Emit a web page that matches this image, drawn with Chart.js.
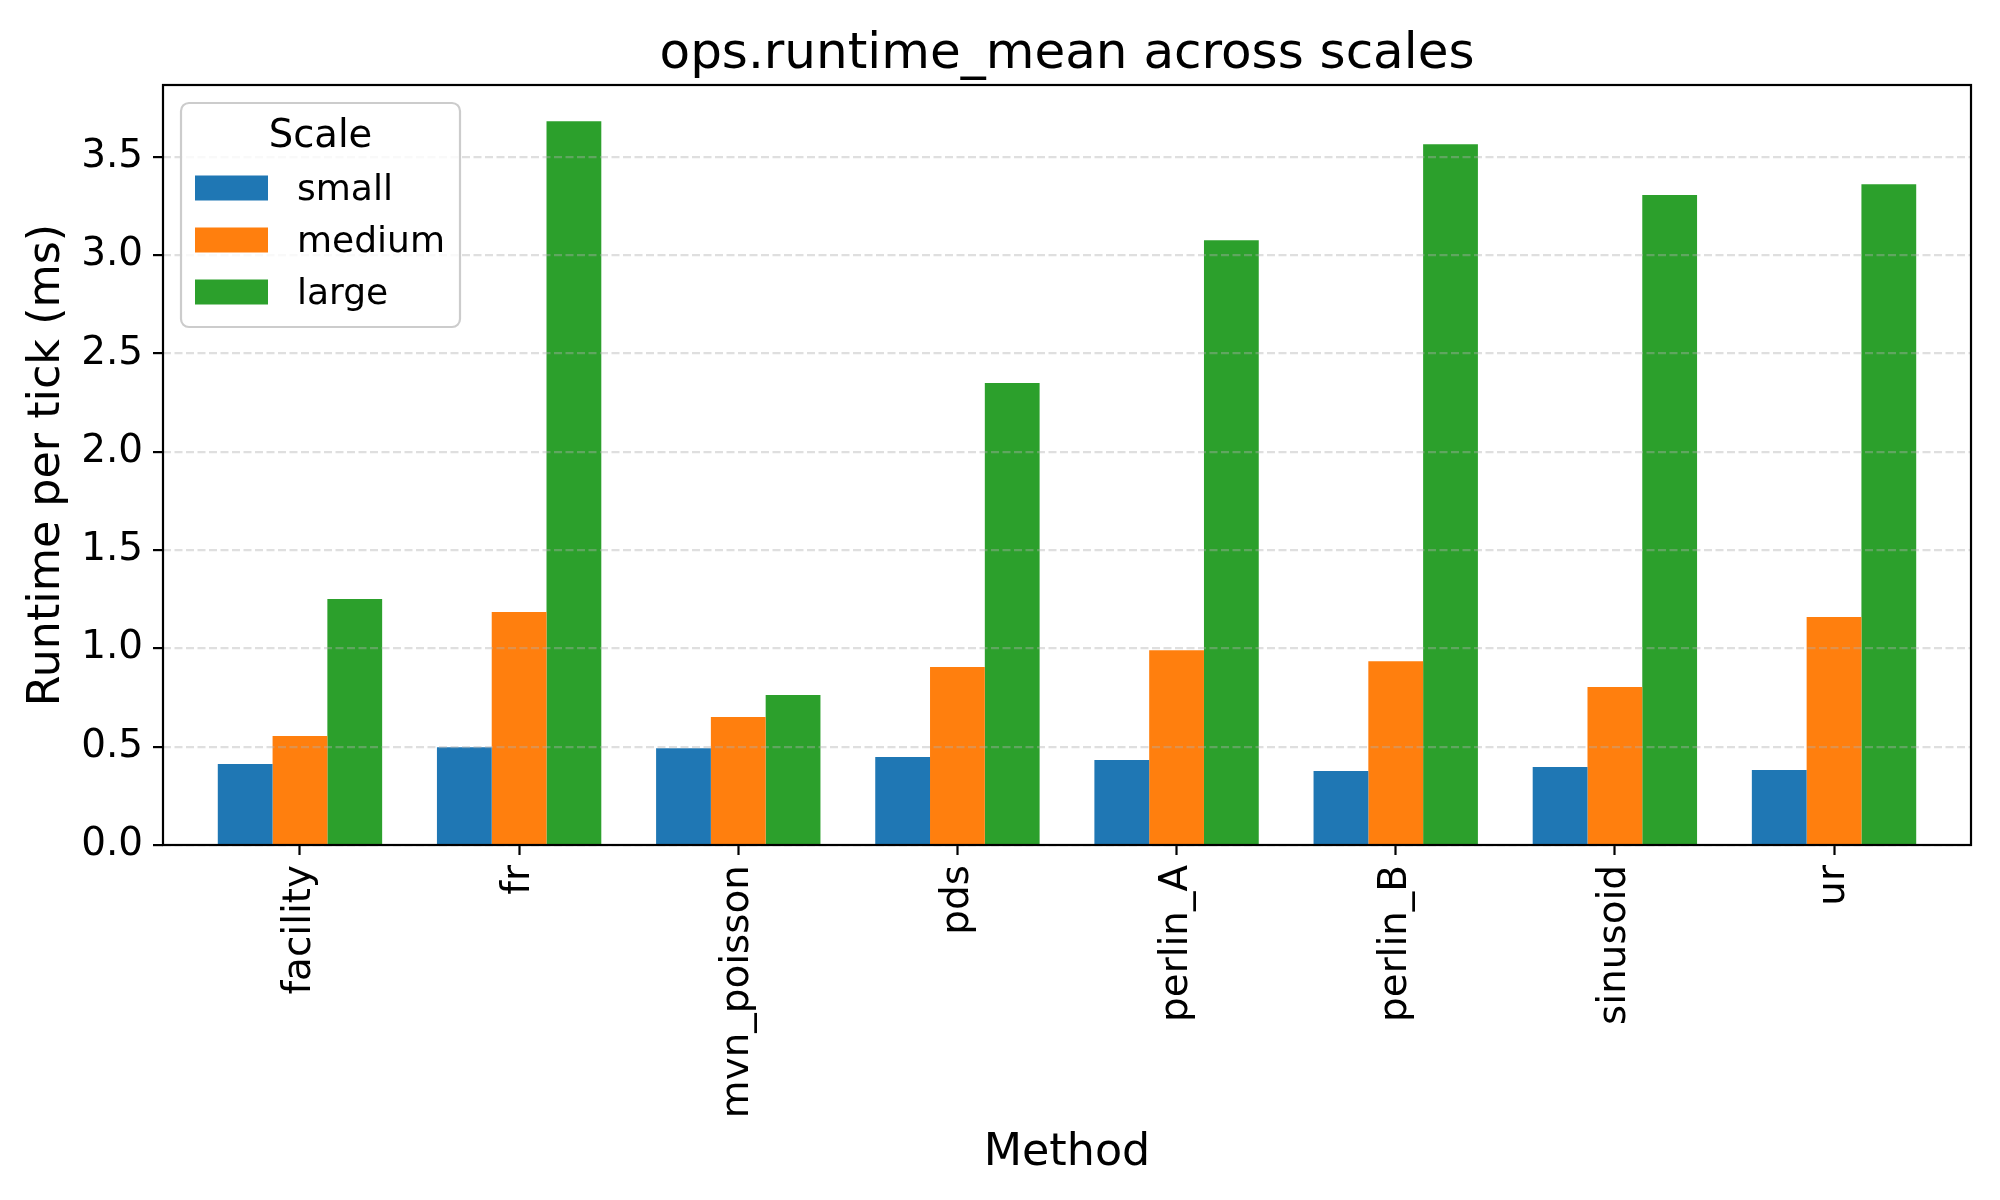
<!DOCTYPE html>
<html>
<head>
<meta charset="utf-8">
<script src="https://cdn.jsdelivr.net/npm/chart.js@4.4.0/dist/chart.umd.min.js"></script>
<style>
  html, body { margin: 0; padding: 0; background: #fff; }
  #wrap { width: 2000px; height: 1200px; }
</style>
</head>
<body>
<div id="wrap"><canvas id="runtimeChart" width="2000" height="1200"></canvas></div>
<script>
// data
const methods = ["facility", "fr", "mvn_poisson", "pds", "perlin_A", "perlin_B", "sinusoid", "ur"];
const scaleNames = ["small", "medium", "large"];
const smallVals = [0.412, 0.497, 0.492, 0.447, 0.432, 0.376, 0.397, 0.381];
const mediumVals = [0.554, 1.185, 0.651, 0.905, 0.991, 0.935, 0.803, 1.159];
const largeVals = [1.251, 3.681, 0.763, 2.349, 3.076, 3.564, 3.305, 3.360];
const barColors = ["#1f77b4", "#ff7f0e", "#2ca02c"];

const FONT = '"DejaVu Sans", sans-serif';
const yMax = 3.865;

const toPoints = (vals) => vals.map((v, i) => ({ x: i, y: v }));

/* spines + legend box, matplotlib style */
const frameAndLegend = {
  id: 'frameAndLegend',
  afterDraw(chart) {
    const ctx = chart.ctx;
    const a = chart.chartArea;
    ctx.save();
    ctx.strokeStyle = '#000';
    ctx.lineWidth = 2.2;
    ctx.strokeRect(a.left, a.top, a.right - a.left, a.bottom - a.top);

    const x0 = 181, y0 = 103, w = 279, h = 224;
    ctx.beginPath();
    ctx.roundRect(x0, y0, w, h, 8);
    ctx.fillStyle = 'rgba(255,255,255,0.8)';
    ctx.fill();
    ctx.strokeStyle = '#cccccc';
    ctx.lineWidth = 2.2;
    ctx.stroke();

    ctx.fillStyle = '#000';
    ctx.font = '38.5px ' + FONT;
    ctx.textAlign = 'center';
    ctx.textBaseline = 'middle';
    ctx.fillText('Scale', x0 + w / 2, 137);

    ctx.font = '36px ' + FONT;
    ctx.textAlign = 'left';
    chart.data.datasets.forEach((ds, i) => {
      const cy = 188 + i * 52;
      ctx.fillStyle = ds.backgroundColor;
      ctx.fillRect(195, cy - 12.5, 73, 25);
      ctx.fillStyle = '#000';
      ctx.fillText(ds.label, 297, cy + 2.5);
    });
    ctx.restore();
  }
};

new Chart(document.getElementById('runtimeChart'), {
  type: 'bar',
  data: {
    datasets: [smallVals, mediumVals, largeVals].map((vals, i) => ({
      label: scaleNames[i],
      data: toPoints(vals),
      backgroundColor: barColors[i],
      borderWidth: 0,
      categoryPercentage: 0.75,
      barPercentage: 1.0
    }))
  },
  options: {
    responsive: false,
    devicePixelRatio: 1,
    animation: false,
    layout: { padding: { left: 0, right: 29, top: 0, bottom: 0 } },
    plugins: {
      legend: { display: false },
      tooltip: { enabled: false },
      title: {
        display: true,
        fullSize: false,
        text: 'ops.runtime_mean across scales',
        color: '#000',
        font: { family: FONT, size: 50, weight: 'normal', lineHeight: 1.2 },
        padding: { top: 25, bottom: 0 }
      }
    },
    scales: {
      x: {
        type: 'linear',
        offset: false,
        min: -0.625,
        max: 7.625,
        afterFit: (s) => { s.height = 355; },
        border: { display: false },
        grid: {
          offset: false,
          drawOnChartArea: false,
          drawTicks: true,
          tickLength: 10,
          tickWidth: 2.2,
          tickColor: '#000'
        },
        ticks: {
          stepSize: 1,
          includeBounds: false,
          autoSkip: false,
          minRotation: 90,
          maxRotation: 90,
          padding: 10,
          color: '#000',
          font: { family: FONT, size: 38.9 },
          callback: (v) => methods[v] ?? ''
        },
        title: {
          display: true,
          text: 'Method',
          color: '#000',
          font: { family: FONT, size: 44.4, lineHeight: 1.2 },
          padding: { top: 0, bottom: 20 }
        }
      },
      y: {
        min: 0,
        max: yMax,
        afterFit: (s) => { s.width = 163; },
        border: { display: false, dash: [8, 3.5] },
        grid: {
          z: 1,
          color: 'rgba(176,176,176,0.4)',
          lineWidth: 2.2,
          drawTicks: true,
          tickLength: 10,
          tickWidth: 2.2,
          tickColor: '#000',
          tickBorderDash: []
        },
        ticks: {
          stepSize: 0.5,
          includeBounds: false,
          padding: 10,
          color: '#000',
          font: { family: FONT, size: 38.9 },
          callback: (v) => v.toFixed(1)
        },
        title: {
          display: true,
          text: 'Runtime per tick (ms)',
          color: '#000',
          font: { family: FONT, size: 44.4, lineHeight: 1.2 },
          padding: { top: 21, bottom: 0 }
        }
      }
    }
  },
  plugins: [frameAndLegend]
});
</script>
</body>
</html>
